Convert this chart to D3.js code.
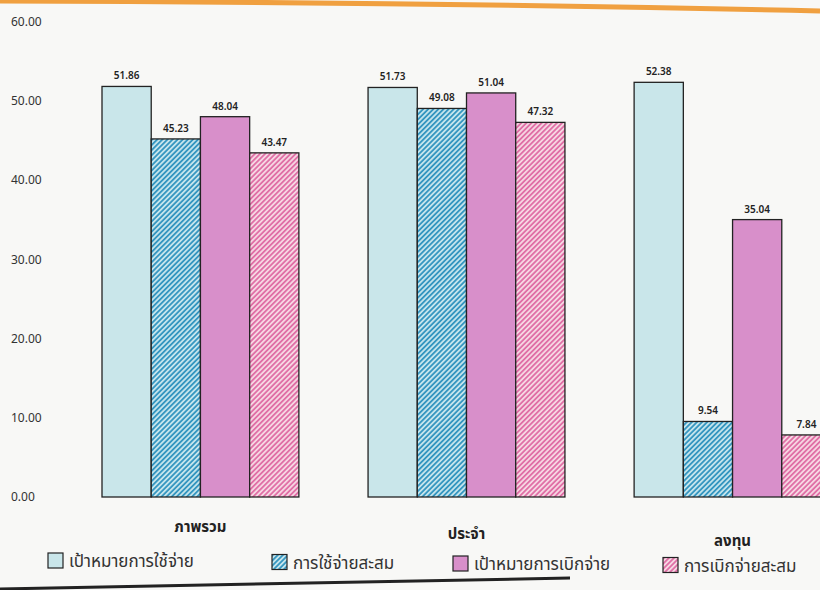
<!DOCTYPE html>
<html>
<head>
<meta charset="utf-8">
<script src="https://cdn.jsdelivr.net/npm/d3@7"></script>
<style>
  body { margin: 0; background: #f8f8f6; }
  svg { display: block; }
  text { font-family: "Noto Sans Thai", "Noto Sans", "DejaVu Sans", sans-serif; }
</style>
</head>
<body>
<div id="chart"></div>
<script>
// categories and series
const groups = ["ภาพรวม", "ประจำ", "ลงทุน"];
const seriesNames = ["เป้าหมายการใช้จ่าย", "การใช้จ่ายสะสม", "เป้าหมายการเบิกจ่าย", "การเบิกจ่ายสะสม"];
const spendTarget = [51.86, 51.73, 52.38];
const spendActual = [45.23, 49.08, 9.54];
const disburseTarget = [48.04, 51.04, 35.04];
const disburseActual = [43.47, 47.32, 7.84];
const yTicks = [0, 10, 20, 30, 40, 50, 60];

const width = 820, height = 590;

const svg = d3.select('#chart')
  .append('svg')
    .attr('width', width)
    .attr('height', height);

const defs = svg.append('defs');
function hatch(id, bg, color) {
  const p = defs.append('pattern')
    .attr('id', id)
    .attr('patternUnits', 'userSpaceOnUse')
    .attr('width', 3.6).attr('height', 3.6)
    .attr('patternTransform', 'rotate(45)');
  p.append('rect').attr('width', 3.6).attr('height', 3.6).attr('fill', bg);
  p.append('rect').attr('width', 1.8).attr('height', 3.6).attr('fill', color);
}
hatch('hBlue', '#c4e4ec', '#3596c0');
hatch('hPink', '#f6d6e2', '#e06fa6');

const fills = ['#c9e6ea', 'url(#hBlue)', '#d88fca', 'url(#hPink)'];

// page edges from the photo
svg.append('path')
  .attr('d', 'M0,1 Q410,2 820,11')
  .attr('fill', 'none').attr('stroke', '#f0a040').attr('stroke-width', 5);
svg.append('path')
  .attr('d', 'M0,589 L570,578')
  .attr('fill', 'none').attr('stroke', '#222').attr('stroke-width', 3);

const data = groups.map((g, i) => ({
  group: g,
  values: [spendTarget[i], spendActual[i], disburseTarget[i], disburseActual[i]]
}));

const x0 = d3.scaleBand()
  .domain(groups)
  .range([102, 831])
  .paddingInner(0.26);

const x1 = d3.scaleBand()
  .domain(d3.range(seriesNames.length))
  .range([0, x0.bandwidth()]);

const y = d3.scaleLinear()
  .domain([0, 60])
  .range([497, 22]);

// y axis labels only
svg.append('g')
  .selectAll('text')
  .data(yTicks)
  .enter()
  .append('text')
    .attr('x', 11)
    .attr('y', d => y(d) + 4)
    .attr('font-size', '12px')
    .attr('fill', '#333')
    .text(d => d3.format('.2f')(d));

const g = svg.append('g');
const grp = g.selectAll('g')
  .data(data)
  .enter()
  .append('g')
    .attr('transform', d => 'translate(' + x0(d.group) + ',0)');

grp.selectAll('rect')
  .data(d => d.values)
  .enter()
  .append('rect')
    .attr('x', (d, i) => x1(i))
    .attr('y', d => y(d))
    .attr('width', x1.bandwidth())
    .attr('height', d => y(0) - y(d))
    .attr('fill', (d, i) => fills[i])
    .attr('stroke', '#222')
    .attr('stroke-width', 1.3);

grp.selectAll('text.val')
  .data(d => d.values)
  .enter()
  .append('text')
    .attr('class', 'val')
    .attr('x', (d, i) => x1(i) + x1.bandwidth() / 2)
    .attr('y', d => y(d) - 7)
    .attr('text-anchor', 'middle')
    .attr('font-size', '10px')
    .attr('font-weight', '600')
    .attr('fill', '#222')
    .text(d => d3.format('.2f')(d));

// category labels
svg.append('g')
  .selectAll('text')
  .data(groups)
  .enter()
  .append('text')
    .attr('x', d => x0(d) + x0.bandwidth() / 2)
    .attr('y', (d, i) => 532 + i * 7)
    .attr('text-anchor', 'middle')
    .attr('font-size', '15px')
    .attr('font-weight', 'bold')
    .attr('fill', '#222')
    .text(d => d);

// legend
const legendX = [48, 272, 453, 663];
const lg = svg.append('g')
  .selectAll('g')
  .data(seriesNames)
  .enter()
  .append('g')
    .attr('transform', (d, i) => 'translate(' + legendX[i] + ',' + (553 + i * 1.5) + ')');
lg.append('rect')
  .attr('width', 15).attr('height', 15)
  .attr('fill', (d, i) => fills[i])
  .attr('stroke', '#222').attr('stroke-width', 1.2);
lg.append('text')
  .attr('x', 21).attr('y', 14)
  .attr('font-size', '17px')
  .attr('fill', '#333')
  .text(d => d);
</script>
</body>
</html>
